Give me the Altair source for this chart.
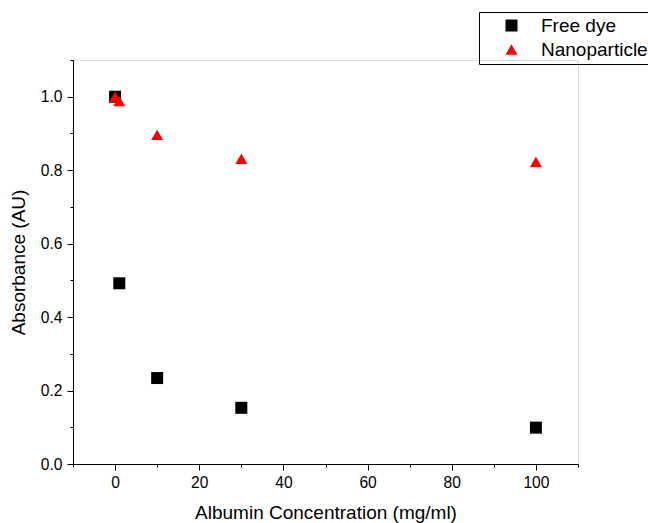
import altair as alt
import pandas as pd

concentration = [0, 1, 10, 30, 100]
free_dye = [1.0, 0.492, 0.234, 0.153, 0.099]
nanoparticle = [1.0, 0.988, 0.896, 0.831, 0.823]
series_names = ["Free dye", "Nanoparticle"]
x_major = [0, 20, 40, 60, 80, 100]
x_minor = [-10, 10, 30, 50, 70, 90, 110]
y_major = [0.0, 0.2, 0.4, 0.6, 0.8, 1.0]
y_minor = [0.1, 0.3, 0.5, 0.7, 0.9, 1.1]

rows = []
for c, v in zip(concentration, free_dye):
    rows.append({"conc": c, "abs": v, "series": series_names[0]})
for c, v in zip(concentration, nanoparticle):
    rows.append({"conc": c, "abs": v, "series": series_names[1]})
df = pd.DataFrame(rows)

FONT = "Liberation Sans"
xscale = alt.Scale(domain=[-10, 110], nice=False, zero=False)
yscale = alt.Scale(domain=[0, 1.1], nice=False, zero=False)

common_axis = dict(grid=False, domainColor="black", tickColor="black",
                   labelFont=FONT, labelFontSize=15.6, labelColor="black",
                   titleFont=FONT, titleFontSize=19, titleFontWeight="normal",
                   titleColor="black", domainWidth=1, tickWidth=1)

points = alt.Chart(df).mark_point(filled=True, size=144, opacity=1).encode(
    x=alt.X("conc:Q", scale=xscale,
            axis=alt.Axis(values=x_major, format="d", tickSize=6, labelPadding=5,
                          title="Albumin Concentration (mg/ml)", titlePadding=13,
                          **common_axis)),
    y=alt.Y("abs:Q", scale=yscale,
            axis=alt.Axis(values=y_major, format=".1f", tickSize=6, labelPadding=5,
                          title="Absorbance (AU)", titlePadding=12,
                          **common_axis)),
    color=alt.Color("series:N",
                    scale=alt.Scale(domain=series_names, range=["black", "#ff0000"]),
                    legend=alt.Legend(title=None, orient="none", legendX=406, legendY=-48,
                                      strokeColor="black", padding=4, symbolOffset=19,
                                      labelOffset=20, labelFont=FONT, labelFontSize=19,
                                      labelColor="black", symbolSize=144, rowPadding=4,
                                      symbolStrokeWidth=0)),
    shape=alt.Shape("series:N",
                    scale=alt.Scale(domain=series_names, range=["square", "triangle-up"]),
                    legend=None),
)

minor = alt.Chart(df).mark_point(opacity=0).encode(
    x=alt.X("conc:Q", scale=xscale,
            axis=alt.Axis(values=x_minor, orient="bottom", labels=False, domain=False,
                          tickSize=3, tickColor="black", grid=False, title=None)),
    y=alt.Y("abs:Q", scale=yscale,
            axis=alt.Axis(values=y_minor, orient="left", labels=False, domain=False,
                          tickSize=3, tickColor="black", grid=False, title=None)),
)

chart = alt.layer(points, minor).resolve_axis(x="independent", y="independent").properties(
    width=505, height=404,
    autosize=alt.AutoSizeParams(type="none"),
    padding={"left": 73, "top": 60, "right": 70, "bottom": 59},
).configure_view(stroke=None).configure(background="white")

chart.save("out.html", embed_options={"renderer": "svg", "actions": False})
